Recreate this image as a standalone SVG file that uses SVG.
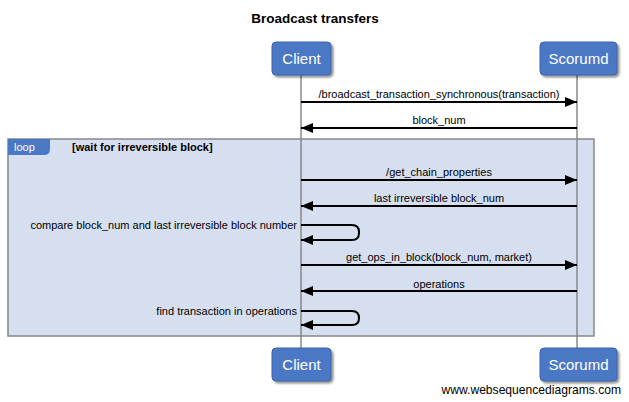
<svg xmlns="http://www.w3.org/2000/svg" width="629" height="402" viewBox="0 0 629 402">
<defs>
<style>
.t{font-family:"Liberation Sans",Arial,sans-serif;font-size:11px;fill:#000}
.b{font-weight:bold}
.actor rect{fill:#4b78c5;stroke:#3a64ad;stroke-width:1}
.actor text{font-family:"Liberation Sans",Arial,sans-serif;font-size:15px;fill:#fff;text-anchor:middle}
.life{stroke:#888;stroke-width:1.5}
.msg{stroke:#000;stroke-width:2;fill:none}
</style>
<marker id="ah" viewBox="0 0 12 10" refX="12" refY="5" markerWidth="12" markerHeight="10" markerUnits="userSpaceOnUse" orient="auto">
<path d="M0,0 L12,5 L0,10 Z" fill="#000"/>
</marker>
<filter id="sh" x="-20%" y="-20%" width="150%" height="150%">
<feGaussianBlur in="SourceAlpha" stdDeviation="1.2"/>
<feOffset dx="2" dy="2"/>
<feComponentTransfer><feFuncA type="linear" slope="0.45"/></feComponentTransfer>
<feMerge><feMergeNode/><feMergeNode in="SourceGraphic"/></feMerge>
</filter>
</defs>
<rect width="629" height="402" fill="#fff"/>
<text x="315" y="23" class="t b" style="font-size:13.5px" text-anchor="middle">Broadcast transfers</text>

<g id="loop">
<rect x="8" y="139" width="586" height="197" fill="#d6dff0" stroke="#888" stroke-width="1.5"/>
<path d="M8,139 H50 V149 Q50,155 44,155 H8 Z" fill="#4b78c5"/>
<text x="14" y="151" class="t" style="fill:#fff">loop</text>
<text x="72" y="151" class="t b">[wait for irreversible block]</text>
</g>

<g id="lifelines">
<line class="life" x1="301" y1="75" x2="301" y2="348"/>
<line class="life" x1="577" y1="75" x2="577" y2="348"/>
</g>

<g id="actor-client-top" class="actor"><rect x="272" y="42" width="59" height="33" rx="4" filter="url(#sh)"/><text x="301.5" y="64">Client</text></g>
<g id="actor-scorumd-top" class="actor"><rect x="540" y="42" width="77" height="33" rx="4" filter="url(#sh)"/><text x="578.5" y="64">Scorumd</text></g>
<g id="actor-client-bottom" class="actor"><rect x="272" y="348" width="59" height="33" rx="4" filter="url(#sh)"/><text x="301.5" y="370">Client</text></g>
<g id="actor-scorumd-bottom" class="actor"><rect x="540" y="348" width="77" height="33" rx="4" filter="url(#sh)"/><text x="578.5" y="370">Scorumd</text></g>

<g id="connectors">
<line class="msg" x1="301" y1="102" x2="577" y2="102" marker-end="url(#ah)"/>
<line class="msg" x1="577" y1="128" x2="301" y2="128" marker-end="url(#ah)"/>
<line class="msg" x1="301" y1="180" x2="577" y2="180" marker-end="url(#ah)"/>
<line class="msg" x1="577" y1="206" x2="301" y2="206" marker-end="url(#ah)"/>
<path class="msg" d="M301,225 H352 Q359,225 359,232 V233 Q359,240 352,240 H301" marker-end="url(#ah)"/>
<line class="msg" x1="301" y1="265" x2="577" y2="265" marker-end="url(#ah)"/>
<line class="msg" x1="577" y1="291" x2="301" y2="291" marker-end="url(#ah)"/>
<path class="msg" d="M301,311 H352 Q359,311 359,318 V318 Q359,325 352,325 H301" marker-end="url(#ah)"/>
</g>

<g id="labels" class="t">
<text x="439" y="98" text-anchor="middle">/broadcast_transaction_synchronous(transaction)</text>
<text x="439" y="124" text-anchor="middle">block_num</text>
<text x="439" y="176" text-anchor="middle">/get_chain_properties</text>
<text x="439" y="202" text-anchor="middle">last irreversible block_num</text>
<text x="297" y="229" text-anchor="end">compare block_num and last irreversible block number</text>
<text x="439" y="261" text-anchor="middle">get_ops_in_block(block_num, market)</text>
<text x="439" y="288" text-anchor="middle">operations</text>
<text x="297" y="315" text-anchor="end">find transaction in operations</text>
</g>
<text x="621" y="394" class="t" style="font-size:12.1px" text-anchor="end">www.websequencediagrams.com</text>
</svg>
